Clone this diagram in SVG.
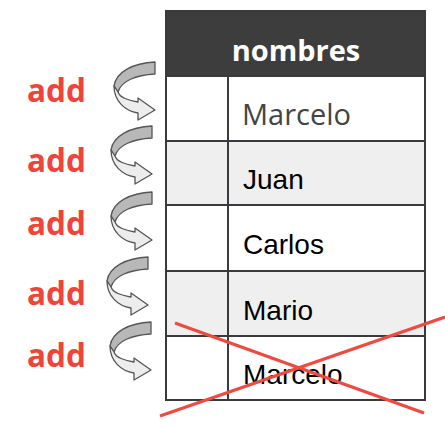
<svg xmlns="http://www.w3.org/2000/svg" width="445" height="425" viewBox="0 0 445 425">
<style>
.cell{stroke:#3a3a3e;stroke-width:2}
.w{fill:#ffffff}
.g{fill:#efefef}
.txt{font-family:"Liberation Sans",Arial,sans-serif;font-size:28px;fill:#000}
.add{font-family:"Open Sans",sans-serif;font-weight:bold;font-size:31.5px;fill:#f0443a}
.ar{stroke:#555;stroke-width:1.3;stroke-linejoin:round}
.x{stroke:#f04a40;stroke-width:3.2;stroke-linecap:butt}
</style>
<defs>
<g id="arr">
<path class="ar" fill="#b8b8b8" d="M0,-48 C-22,-47 -39,-38 -41,-24 L-37,-18 C-34,-29 -19,-35 0,-36 Z"/>
<path class="ar" fill="#ededed" d="M-41,-24 C-41,-9 -30,1 -17,3 L-17,10 L0,0 L-17,-12 L-17,-8 C-27,-10 -35,-12 -37,-18 Z"/>
</g>
</defs>
<g id="table">
<rect x="166" y="11" width="259" height="65" fill="#3d3d3d" class="cell"/>
<text x="296" y="61" text-anchor="middle" font-family="'Open Sans',sans-serif" font-weight="bold" font-size="29" fill="#fff">nombres</text>
</g>
<g id="row1">
<rect x="166" y="76" width="62" height="65" class="cell w"/>
<rect x="228" y="76" width="197" height="65" class="cell w"/>
<text x="242" y="125" font-family="'Open Sans',sans-serif" font-size="29" fill="#444">Marcelo</text>
</g>
<g id="row2">
<rect x="166" y="141" width="62" height="64" class="cell g"/>
<rect x="228" y="141" width="197" height="64" class="cell g"/>
<text x="243" y="189" class="txt">Juan</text>
</g>
<g id="row3">
<rect x="166" y="205" width="62" height="66" class="cell w"/>
<rect x="228" y="205" width="197" height="66" class="cell w"/>
<text x="243" y="254" class="txt">Carlos</text>
</g>
<g id="row4">
<rect x="166" y="271" width="62" height="65" class="cell g"/>
<rect x="228" y="271" width="197" height="65" class="cell g"/>
<text x="243" y="320" class="txt">Mario</text>
</g>
<g id="row5">
<rect x="166" y="336" width="62" height="64" class="cell w"/>
<rect x="228" y="336" width="197" height="64" class="cell w"/>
<text x="243" y="384" class="txt">Marcelo</text>
</g>
<g id="labels">
<text x="27" y="102" class="add">add</text>
<text x="27" y="172" class="add">add</text>
<text x="27" y="235" class="add">add</text>
<text x="27" y="305" class="add">add</text>
<text x="27" y="367" class="add">add</text>
</g>
<g id="connectors">
<use href="#arr" transform="translate(155,110)"/>
<use href="#arr" transform="translate(152,174)"/>
<use href="#arr" transform="translate(152,240)"/>
<use href="#arr" transform="translate(148,305)"/>
<use href="#arr" transform="translate(151,370)"/>
</g>
<g id="cross">
<line x1="175" y1="323" x2="424" y2="413" class="x"/>
<line x1="160" y1="416" x2="445" y2="317" class="x"/>
</g>
</svg>
